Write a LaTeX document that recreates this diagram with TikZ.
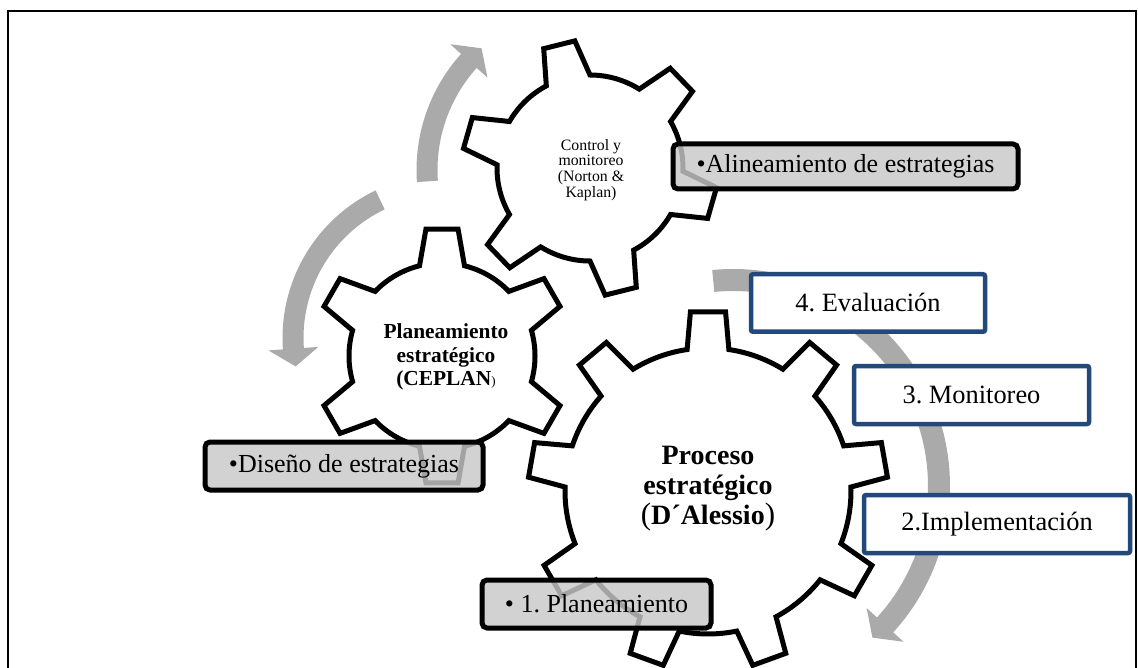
\documentclass[tikz,border=0pt]{standalone}
\usepackage{fontspec}
\setmainfont{Liberation Serif}
\usetikzlibrary{calc}
\frenchspacing

\definecolor{arrowgray}{RGB}{170,170,170}
\definecolor{boxgray}{RGB}{200,200,200}
\definecolor{stepblue}{RGB}{35,72,122}

\tikzset{
  gearline/.style={draw=black, line width=5pt, fill=white},
  graybox/.style={draw=black, line width=5pt, fill=boxgray, fill opacity=0.82,
    text opacity=1, rounded corners=5pt, inner sep=0pt,
    font=\fontsize{26}{30}\selectfont},
  bluebox/.style={draw=stepblue, line width=4.5pt, fill=white, rounded corners=2pt,
    inner sep=0pt, font=\fontsize{26.4}{30}\selectfont},
}

% gear outline: centre (x, y measured downwards), teeth, phase, outer radius,
% root radius, half-angle at the tip, half-angle at the root
\newcommand\drawgear[8]{%
  \pgfmathsetmacro\gearstep{360/#3}%
  \pgfmathtruncatemacro\gearlast{#3-1}%
  \begin{scope}[shift={(#1pt,-#2pt)}]
    \draw[gearline] ({#4-#8}:#6pt)
      \foreach \k in {0,...,\gearlast}{
        -- ({#4+\k*\gearstep-#7}:#5pt) -- ({#4+\k*\gearstep+#7}:#5pt)
        -- ({#4+\k*\gearstep+#8}:#6pt)
        arc[start angle={#4+\k*\gearstep+#8}, end angle={#4+(\k+1)*\gearstep-#8}, radius=#6pt]
      } -- cycle;
  \end{scope}}

% thick circular arrow: centre, mid radius, half width, tail angle,
% head-base angle, head half-width, tip angle
\newcommand\circarrow[8]{%
  \pgfmathsetmacro\arOut{#3+#4}%
  \pgfmathsetmacro\arIn{#3-#4}%
  \pgfmathsetmacro\arWOut{#3+#7}%
  \pgfmathsetmacro\arWIn{#3-#7}%
  \begin{scope}[shift={(#1pt,-#2pt)}]
    \fill[arrowgray] (#5:\arOut pt) arc[start angle=#5, end angle=#6, radius=\arOut pt]
      -- (#6:\arWOut pt) -- (#8:#3pt) -- (#6:\arWIn pt) -- (#6:\arIn pt)
      arc[start angle=#6, end angle=#5, radius=\arIn pt] -- cycle;
  \end{scope}}

\begin{document}
\begin{tikzpicture}[x=1pt, y=1pt]
\useasboundingbox (0,0) rectangle (1138,-668);
\clip (0,0) rectangle (1138,-668);

% frame
\draw[line width=1.3pt] (8,-690) -- (8,-11) -- (1136,-11) -- (1136,-690);

% cycle arrows
\circarrow{590}{170}{163}{10.5}{184}{138}{25}{131.7}
\circarrow{446}{338}{153}{10.5}{115.5}{184}{25}{190.7}
\circarrow{733}{486}{206}{11}{95.5}{-42.4}{25}{-47.4}

% gears
\drawgear{442}{356}{6}{30}{128}{93}{7.2}{14}
\drawgear{590}{168}{6}{44}{128}{93}{7.2}{14}
\drawgear{708}{491}{9}{90}{180}{143}{5.6}{8.4}

% gear captions
\node[align=center, font=\fontsize{15.8}{15.8}\selectfont] (ctrl) at (591,-170)
  {Control y\\monitoreo\\(Norton \&\\Kaplan)};
\node[align=center, font=\bfseries\fontsize{21.4}{23.5}\selectfont] (plan) at (446,-357)
  {Planeamiento\\estratégico\\(CEPLAN{\mdseries\fontsize{13}{13}\selectfont )}};
\node[align=center, font=\bfseries\fontsize{28}{30}\selectfont] (proc) at (708,-489)
  {Proceso\\estratégico\\{\mdseries\fontsize{31}{30}\selectfont (}D´Alessio{\mdseries\fontsize{31}{30}\selectfont )}};

% bullet boxes
\node[graybox, minimum width=345pt, minimum height=45pt] (alin) at (845.5,-166.5)
  {•Alineamiento de estrategias};
\node[graybox, minimum width=278pt, minimum height=48pt] (dise) at (344,-466)
  {•Diseño de estrategias};
\node[graybox, minimum width=229pt, minimum height=48pt] (pl1) at (596.5,-604)
  {• 1. Planeamiento};

% process steps
\node[bluebox, minimum width=234pt, minimum height=57.5pt] (ev) at (868,-303)
  {4. Evaluación};
\node[bluebox, minimum width=235pt, minimum height=58pt] (mo) at (971.5,-395)
  {3. Monitoreo};
\node[bluebox, minimum width=266pt, minimum height=58pt] (im) at (997,-524)
  {2.Implementación};
\end{tikzpicture}
\end{document}
